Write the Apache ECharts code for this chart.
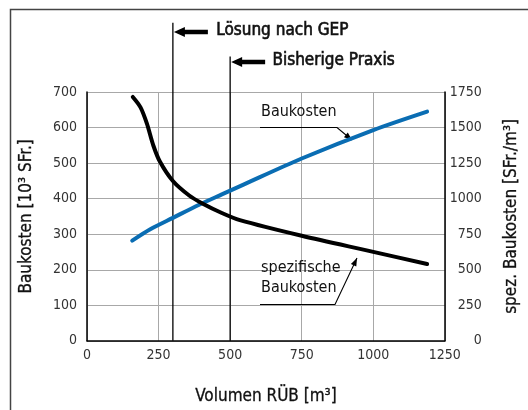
<!DOCTYPE html>
<html>
<head>
<meta charset="utf-8">
<script src="https://cdn.jsdelivr.net/npm/echarts@6/dist/echarts.min.js"></script>
<style>html,body{margin:0;padding:0;background:#fff}#c{width:528px;height:410px}</style>
</head>
<body>
<div id="c"></div>
<script>
// Volume axis ticks
const xTicks = [0, 250, 500, 750, 1000, 1250];
const leftTicks = [0, 100, 200, 300, 400, 500, 600, 700];
const rightTicks = [0, 250, 500, 750, 1000, 1250, 1500, 1750];

// Baukosten [10^3 SFr.] vs. Volumen
const baukostenX = [158, 221, 300, 392, 471, 537, 750, 1000, 1188];
const baukostenY = [282, 314, 346, 383, 412, 436, 513, 593, 645];

// spezifische Baukosten [SFr./m3] vs. Volumen
const spezX = [160, 187, 209, 232, 255, 300, 357, 403, 471, 534, 750, 1000, 1188];
const spezY = [1715, 1642, 1529, 1372, 1259, 1124, 1022, 966, 899, 849, 739, 626, 540];

// Reference volumes
const gepVolume = 300;
const praxisVolume = 500;
const gepLineTop = 895;
const praxisLineTop = 800;

const FONT = "'Liberation Sans Narrow','DejaVu Sans Condensed','Roboto',sans-serif";

const chart = echarts.init(document.getElementById('c'), null, {renderer: 'canvas'});
const plain = v => String(v);

const option = {
  animation: false,
  backgroundColor: '#fff',
  grid: {left: 87, top: 92, width: 366, height: 259, containLabel: false},
  xAxis: {
    type: 'value', min: xTicks[0], max: xTicks[xTicks.length - 1], interval: 250,
    name: 'Volumen RÜB [m³]', nameLocation: 'middle', nameGap: 47,
    nameTextStyle: {fontFamily: FONT, fontSize: 17, color: '#111', textBorderColor: '#111', textBorderWidth: 0.3},
    axisLine: {show: true, onZero: false, lineStyle: {color: '#000', width: 1.5}},
    axisTick: {show: false},
    axisLabel: {fontFamily: FONT, fontSize: 14, color: '#333', margin: 8, formatter: plain},
    splitLine: {show: true, lineStyle: {color: '#a8a8a8', width: 1}}
  },
  yAxis: [
    {
      type: 'value', min: leftTicks[0], max: leftTicks[leftTicks.length - 1], interval: 100,
      position: 'left',
      name: 'Baukosten [10³ SFr.]', nameLocation: 'middle', nameGap: 52, nameRotate: 90,
      nameTextStyle: {fontFamily: FONT, fontSize: 17, color: '#111', textBorderColor: '#111', textBorderWidth: 0.3},
      axisLine: {show: true, lineStyle: {color: '#000', width: 1.5}},
      axisTick: {show: false},
      axisLabel: {fontFamily: FONT, fontSize: 14, color: '#333', margin: 10, formatter: plain},
      splitLine: {show: true, lineStyle: {color: '#a8a8a8', width: 1}}
    },
    {
      type: 'value', min: rightTicks[0], max: rightTicks[rightTicks.length - 1], interval: 250,
      position: 'right',
      name: 'spez. Baukosten [SFr./m³]', nameLocation: 'middle', nameGap: 58, nameRotate: 90,
      nameTextStyle: {fontFamily: FONT, fontSize: 17, color: '#111', textBorderColor: '#111', textBorderWidth: 0.3},
      axisLine: {show: true, lineStyle: {color: '#000', width: 1.5}},
      axisTick: {show: false},
      axisLabel: {fontFamily: FONT, fontSize: 14, color: '#333', margin: 37, align: 'right', formatter: plain},
      splitLine: {show: false}
    }
  ],
  series: [
    {
      name: 'GEP', type: 'line', yAxisIndex: 0, clip: false, silent: true,
      symbol: 'none', data: [[gepVolume, 0], [gepVolume, gepLineTop]],
      lineStyle: {color: '#000', width: 1.3}, z: 3
    },
    {
      name: 'Praxis', type: 'line', yAxisIndex: 0, clip: false, silent: true,
      symbol: 'none', data: [[praxisVolume, 0], [praxisVolume, praxisLineTop]],
      lineStyle: {color: '#000', width: 1.3}, z: 3
    },
    {
      name: 'Baukosten', type: 'line', yAxisIndex: 0, smooth: 0.3, symbol: 'none',
      data: baukostenX.map((x, i) => [x, baukostenY[i]]),
      lineStyle: {color: '#0a6db3', width: 4, cap: 'round'}, z: 5
    },
    {
      name: 'spezifische Baukosten', type: 'line', yAxisIndex: 1, smooth: 0.3, symbol: 'none',
      data: spezX.map((x, i) => [x, spezY[i]]),
      lineStyle: {color: '#000', width: 4, cap: 'round'}, z: 5
    }
  ]
};
chart.setOption(option);

function arrowLeft(tipX, cy, shaftLen) {
  const headLen = 11, headH = 5, shaftH = 2.2;
  return {
    type: 'polygon',
    shape: {points: [
      [tipX, cy], [tipX + headLen, cy - headH], [tipX + headLen, cy - shaftH],
      [tipX + headLen + shaftLen, cy - shaftH], [tipX + headLen + shaftLen, cy + shaftH],
      [tipX + headLen, cy + shaftH], [tipX + headLen, cy + headH]
    ]},
    style: {fill: '#000'}
  };
}
function headAt(tip, from, len, half) {
  const dx = tip[0] - from[0], dy = tip[1] - from[1];
  const L = Math.hypot(dx, dy);
  const ux = dx / L, uy = dy / L;
  const bx = tip[0] - ux * len, by = tip[1] - uy * len;
  return {
    type: 'polygon',
    shape: {points: [tip, [bx - uy * half, by + ux * half], [bx + uy * half, by - ux * half]]},
    style: {fill: '#000'}
  };
}

const gepX = chart.convertToPixel({xAxisIndex: 0}, gepVolume);
const praxisX = chart.convertToPixel({xAxisIndex: 0}, praxisVolume);

const bkPath = [[260, 127.5], [337, 127.5], [352, 140]];
const spPath = [[260, 304.5], [335, 304.5], [357, 258]];

chart.setOption({
  graphic: [
    {type: 'rect', shape: {x: 10.5, y: 9.5, width: 700, height: 600},
     style: {fill: 'none', stroke: '#444', lineWidth: 1.5}, silent: true, z: -1},
    arrowLeft(gepX + 1, 32, 23),
    {type: 'text', left: gepX + 43, top: 22,
     style: {text: 'Lösung nach GEP', font: '17px ' + FONT, fill: '#111', stroke: '#111', lineWidth: 0.6}},
    arrowLeft(praxisX + 1, 62, 23),
    {type: 'text', left: praxisX + 42, top: 52,
     style: {text: 'Bisherige Praxis', font: '17px ' + FONT, fill: '#111', stroke: '#111', lineWidth: 0.6}},
    {type: 'text', left: 261, top: 104,
     style: {text: 'Baukosten', font: '16px ' + FONT, fill: '#111'}},
    {type: 'polyline', shape: {points: bkPath},
     style: {stroke: '#000', lineWidth: 1.1, fill: 'none'}},
    headAt(bkPath[2], bkPath[1], 8, 3),
    {type: 'text', left: 261, top: 260,
     style: {text: 'spezifische', font: '16px ' + FONT, fill: '#111'}},
    {type: 'text', left: 261, top: 280,
     style: {text: 'Baukosten', font: '16px ' + FONT, fill: '#111'}},
    {type: 'polyline', shape: {points: spPath},
     style: {stroke: '#000', lineWidth: 1.1, fill: 'none'}},
    headAt(spPath[2], spPath[1], 8, 3)
  ]
});
</script>
</body>
</html>
